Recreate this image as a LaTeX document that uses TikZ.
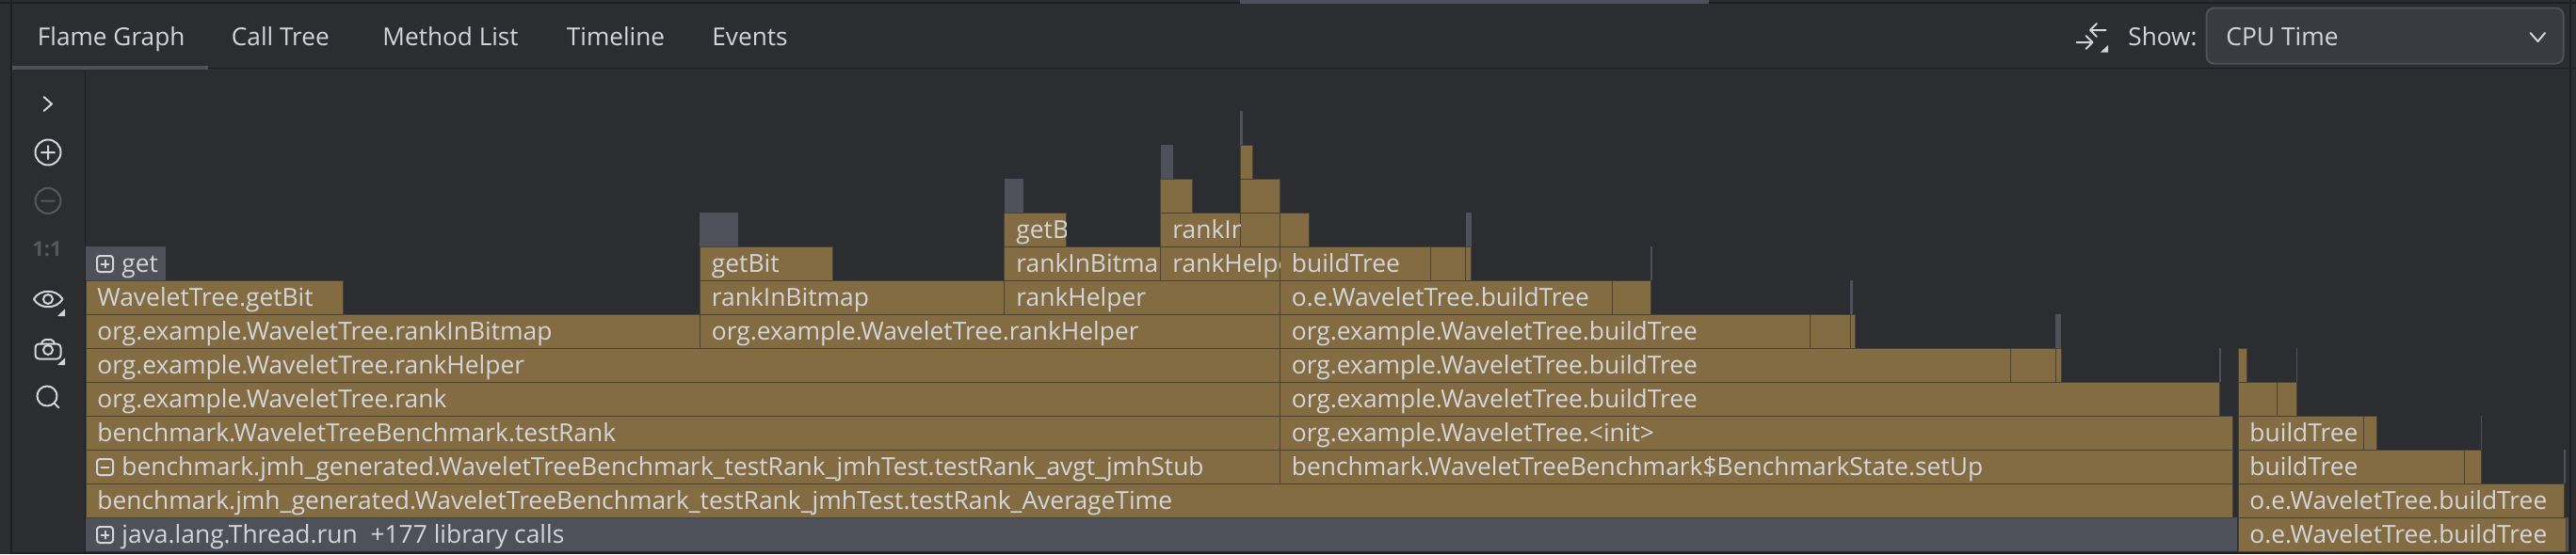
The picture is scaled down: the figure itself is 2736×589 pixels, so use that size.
\documentclass[tikz,border=0pt]{standalone}
\usepackage{fontspec}
\setmainfont{Open Sans}
\usepackage{xcolor}
\usetikzlibrary{calc}
\definecolor{bg}{HTML}{2B2D30}
\definecolor{rule}{HTML}{1E1F22}
\definecolor{flame}{HTML}{836C41}
\definecolor{lib}{HTML}{4E515A}
\definecolor{sep}{HTML}{45423A}
\definecolor{txt}{HTML}{D3D5DA}
\definecolor{dim}{HTML}{55575B}
\definecolor{combo}{HTML}{393B40}
\definecolor{comboline}{HTML}{4E5157}
\tikzset{
  tab/.style={text=txt, font=\fontsize{13.1pt}{15pt}\selectfont, anchor=base west, inner sep=0pt},
  lab/.style={text=txt, font=\fontsize{13.2pt}{15pt}\selectfont, anchor=base west, inner sep=0pt},
  icon/.style={draw=txt, line width=1pt, line cap=round, line join=round},
  icondim/.style={draw=dim, line width=1pt, line cap=round},
  fbrown/.style={fill=flame, draw=sep, line width=0.5pt},
  flib/.style={fill=lib, draw=none},
  sliver/.style={fill=lib, draw=none}
}
% one frame of the flame graph: style, left, right, level
\newcommand{\flamebar}[4]{\path[#1] (#2,{586.3-36*(#4+1)}) rectangle (#3,{586.3-36*#4});}
% frame with a label, cut off at the right edge of the frame: name, text, left, right, level, indent
\newcommand{\cutlab}[6]{\begin{scope}
    \clip (#3,{586.3-36*(#5+1)}) rectangle (#4,{586.3-36*#5});
    \node[lab] (#1) at ({#3+#6},{577-36*#5}) {#2};
  \end{scope}}
% the little box with a plus or a minus
\newcommand{\foldbox}[3]{\draw[icon,rounded corners=1.5pt] (#1,{#2-8.5}) rectangle ++(17,17);
  \draw[icon] ({#1+4.5},#2) -- ++(8,0);
  \ifnum#3=1 \draw[icon] ({#1+8.5},{#2-4}) -- ++(0,8);\fi}

\begin{document}
\begin{tikzpicture}[x=0.5pt,y=-0.5pt]
  \useasboundingbox (0,0) rectangle (2736,589);
  \fill[bg] (0,0) rectangle (2736,589);

  % frames
  \flamebar{flib}{91}{2376}{0}
  \flamebar{fbrown}{2377}{2725}{0}
  \flamebar{sliver}{2726}{2728}{0}
  \flamebar{fbrown}{91}{2371}{1}
  \flamebar{fbrown}{2377}{2723}{1}
  \flamebar{fbrown}{91}{1359}{2}
  \flamebar{fbrown}{1359}{2371}{2}
  \flamebar{fbrown}{2377}{2617}{2}
  \flamebar{fbrown}{2617}{2635}{2}
  \flamebar{sliver}{2723}{2724.5}{2}
  \flamebar{fbrown}{91}{1359}{3}
  \flamebar{fbrown}{1359}{2371}{3}
  \flamebar{fbrown}{2377}{2510}{3}
  \flamebar{fbrown}{2510}{2524}{3}
  \flamebar{sliver}{2634.5}{2636}{3}
  \flamebar{fbrown}{91}{1359}{4}
  \flamebar{fbrown}{1359}{2357}{4}
  \flamebar{fbrown}{2377}{2418.5}{4}
  \flamebar{fbrown}{2418.5}{2439}{4}
  \flamebar{fbrown}{91}{1359}{5}
  \flamebar{fbrown}{1359}{2135}{5}
  \flamebar{fbrown}{2135}{2183}{5}
  \flamebar{fbrown}{2183}{2189}{5}
  \flamebar{sliver}{2357}{2358.5}{5}
  \flamebar{fbrown}{2377}{2386}{5}
  \flamebar{sliver}{2438.5}{2440}{5}
  \flamebar{fbrown}{91}{743}{6}
  \flamebar{fbrown}{743}{1359}{6}
  \flamebar{fbrown}{1359}{1922}{6}
  \flamebar{fbrown}{1922}{1965}{6}
  \flamebar{fbrown}{1965}{1970}{6}
  \flamebar{sliver}{2183}{2189}{6}
  \flamebar{fbrown}{91}{364}{7}
  \flamebar{fbrown}{743}{1066.5}{7}
  \flamebar{fbrown}{1066.5}{1359}{7}
  \flamebar{fbrown}{1359}{1712}{7}
  \flamebar{fbrown}{1712}{1753.5}{7}
  \flamebar{sliver}{1965}{1968}{7}
  \flamebar{flib}{91}{176}{8}
  \flamebar{fbrown}{743}{884.5}{8}
  \flamebar{fbrown}{1066.5}{1232.5}{8}
  \flamebar{fbrown}{1232.5}{1359}{8}
  \flamebar{fbrown}{1359}{1519}{8}
  \flamebar{fbrown}{1519}{1556.5}{8}
  \flamebar{fbrown}{1556.5}{1562.5}{8}
  \flamebar{sliver}{1753}{1755}{8}
  \flamebar{flib}{743}{784}{9}
  \flamebar{fbrown}{1066.5}{1132.5}{9}
  \flamebar{fbrown}{1232.5}{1317}{9}
  \flamebar{fbrown}{1317}{1359}{9}
  \flamebar{fbrown}{1359}{1390}{9}
  \flamebar{sliver}{1556.5}{1562.5}{9}
  \flamebar{sliver}{1066.5}{1086.5}{10}
  \flamebar{fbrown}{1232.5}{1266.5}{10}
  \flamebar{fbrown}{1317}{1359}{10}
  \flamebar{sliver}{1232.5}{1246}{11}
  \flamebar{fbrown}{1317}{1330.5}{11}
  \flamebar{sliver}{1317}{1320}{12}

  % labels
  \node[lab] (threadrun) at (129,577) {java.lang.Thread.run\ \ +177 library calls};
  \node[lab] (avgtime) at (103,541) {benchmark.jmh\_generated.WaveletTreeBenchmark\_testRank\_jmhTest.testRank\_AverageTime};
  \node[lab] (jmhstub) at (129,505) {benchmark.jmh\_generated.WaveletTreeBenchmark\_testRank\_jmhTest.testRank\_avgt\_jmhStub};
  \node[lab] (setup) at (1371.5,505) {benchmark.WaveletTreeBenchmark\$BenchmarkState.setUp};
  \node[lab] (testrank) at (103,469) {benchmark.WaveletTreeBenchmark.testRank};
  \node[lab] (init) at (1371.5,469) {org.example.WaveletTree.<init>};
  \node[lab] (rank) at (103,433) {org.example.WaveletTree.rank};
  \node[lab] (build4) at (1371.5,433) {org.example.WaveletTree.buildTree};
  \node[lab] (helper5) at (103,397) {org.example.WaveletTree.rankHelper};
  \node[lab] (build5) at (1371.5,397) {org.example.WaveletTree.buildTree};
  \node[lab] (bitmap6) at (103,361) {org.example.WaveletTree.rankInBitmap};
  \node[lab] (helper6) at (755.5,361) {org.example.WaveletTree.rankHelper};
  \node[lab] (build6) at (1371.5,361) {org.example.WaveletTree.buildTree};
  \node[lab] (getbit7) at (103,325) {WaveletTree.getBit};
  \node[lab] (bitmap7) at (755.5,325) {rankInBitmap};
  \node[lab] (helper7) at (1079,325) {rankHelper};
  \node[lab] (build7) at (1371.5,325) {o.e.WaveletTree.buildTree};
  \node[lab] (get) at (129,289) {get};
  \node[lab] (getbit8) at (755.5,289) {getBit};
  \cutlab{bitmap8}{rankInBitma}{1066.5}{1232.5}{8}{12.5}
  \cutlab{helper8}{rankHelpe}{1232.5}{1359}{8}{12.5}
  \node[lab] (build8) at (1371.5,289) {buildTree};
  \cutlab{getbit9}{getB}{1066.5}{1132.5}{9}{12.5}
  \cutlab{bitmap9}{rankIn}{1232.5}{1317}{9}{12.5}
  \node[lab] (build3) at (2389,469) {buildTree};
  \node[lab] (build2) at (2389,505) {buildTree};
  \node[lab] (short1) at (2389,541) {o.e.WaveletTree.buildTree};
  \node[lab] (short0) at (2389,577) {o.e.WaveletTree.buildTree};
  \foldbox{103}{568.5}{1}
  \foldbox{103}{496.5}{0}
  \foldbox{103}{280.5}{1}

  % toolbar
  \fill[rule] (0,2) rectangle (2736,4);
  \fill[lib] (1317,0) rectangle (1815,4);
  \fill[rule] (13,71.5) rectangle (2736,73);
  \fill[rule] (11,0) rectangle (13,589);
  \fill[rule] (89.5,73) rectangle (91,589);
  \fill[rule] (2729,0) rectangle (2731,589);
  \fill[rule] (13,586.5) rectangle (2731,588.5);
  \fill[lib] (13,70) rectangle (221,74);
  \node[tab] (flame) at (39.5,48) {Flame Graph};
  \node[tab] (calltree) at (245.5,48) {Call Tree};
  \node[tab] (methods) at (406,48) {Method List};
  \node[tab] (timeline) at (601.5,48) {Timeline};
  \node[tab] (events) at (756,48) {Events};
  \node[tab] (show) at (2260,48) {Show:};
  \draw[fill=combo,draw=comboline,line width=1pt,rounded corners=4pt] (2343.5,8.5) rectangle (2722.5,67.5);
  \node[lab] (cputime) at (2364,48) {CPU Time};
  \draw[icon] (2687.5,35) -- (2695.5,44) -- (2703,35);
  \draw[icon] (2236.5,32) -- (2220,32) (2227,25) -- (2220,32) -- (2227,39);
  \draw[icon] (2205.5,45) -- (2222.5,45) (2215.5,38) -- (2222.5,45) -- (2215.5,52);
  \fill[txt] (2231,55.5) -- (2239,55.5) -- (2239,48) -- cycle;

  % side icons
  \draw[icon] (46.5,103) -- (55,110.5) -- (46.5,118);
  \draw[icon] (51,162) circle[radius=13.5] (44,162) -- (58,162) (51,155) -- (51,169);
  \draw[icondim] (51,213.5) circle[radius=13.5] (44,213.5) -- (58,213.5);
  \node[inner sep=0pt,text=dim,font=\fontsize{11pt}{13pt}\bfseries\selectfont] (oneone) at (50,265) {1:1};
  \draw[icon] (36,318) .. controls (42,307) and (60,307) .. (66.5,318) .. controls (60,329) and (42,329) .. (36,318) -- cycle;
  \draw[icon] (51,318) circle[radius=5];
  \fill[txt] (61,336) -- (69,336) -- (69,328.5) -- cycle;
  \draw[icon,rounded corners=2pt] (37.5,365.5) rectangle (64.5,381.5);
  \draw[icon,rounded corners=1pt] (44,365.5) -- (46,361) -- (56,361) -- (58,365.5);
  \draw[icon] (51,372) circle[radius=5];
  \fill[txt] (61,388) -- (69,388) -- (69,380.5) -- cycle;
  \draw[icon] (50,421) circle[radius=10.5] (57.5,428.5) -- (62.5,433.5);
\end{tikzpicture}
\end{document}
